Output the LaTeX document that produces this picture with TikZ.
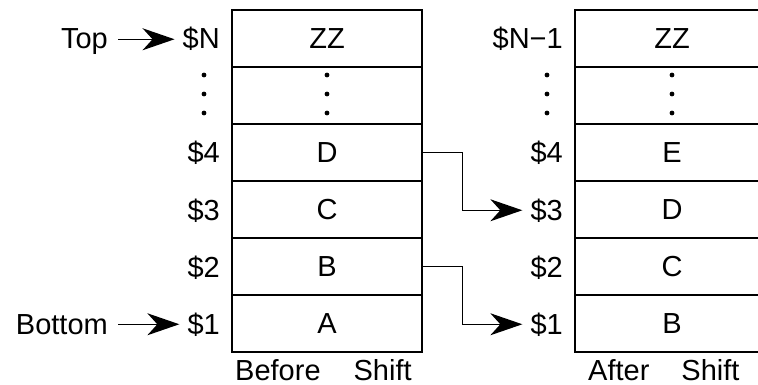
\documentclass[tikz,border=0pt]{standalone}
\usepackage{fontspec}
\setmainfont{Liberation Sans}
\usetikzlibrary{arrows.meta}
\begin{document}
\begin{tikzpicture}[x=1pt,y=-1pt,
  every node/.style={font=\fontsize{29}{34}\selectfont, inner sep=0pt},
  cellL/.style={minimum width=190pt, minimum height=57pt},
  cellR/.style={minimum width=150pt, minimum height=57pt},
  lbl/.style={anchor=base east},
  outer/.style={line width=2.2pt},
  inner/.style={line width=1.3pt},
  conn/.style={line width=1.3pt, -{Stealth[length=32pt,width=22pt,inset=10pt]}, shorten >=8pt},
  dotc/.style={fill=black}
]
\useasboundingbox (0,0) rectangle (758,385);
% left box
\draw[inner] (232,67) -- (422,67) (232,124) -- (422,124) (232,181) -- (422,181)
  (232,238) -- (422,238) (232,295) -- (422,295);
\draw[outer] (232,10) rectangle (422,352);
% right box
\draw[inner] (575,67) -- (758,67) (575,124) -- (758,124) (575,181) -- (758,181)
  (575,238) -- (758,238) (575,295) -- (758,295);
\draw[outer] (758,10) -- (575,10) -- (575,352) -- (758,352);
% left cells
\node[cellL] (cZ) at (327,38.5) {ZZ};
\node[cellL] (cD) at (327,152.5) {D};
\node[cellL] (cC) at (327,209.5) {C};
\node[cellL] (cB) at (327,266.5) {B};
\node[cellL] (cA) at (327,323.5) {A};
% right cells
\node[cellR] (rZ) at (672,38.5) {ZZ};
\node[cellR] (rE) at (672,152.5) {E};
\node[cellR] (rD) at (672,209.5) {D};
\node[cellR] (rC) at (672,266.5) {C};
\node[cellR] (rB) at (672,323.5) {B};
% left labels
\node[lbl] (lN) at (220,49) {\$N};
\node[lbl] (l4) at (220,163) {\$4};
\node[lbl] (l3) at (220,220) {\$3};
\node[lbl] (l2) at (220,277) {\$2};
\node[lbl] (l1) at (220,334) {\$1};
% right labels
\node[lbl] (mN) at (563,49) {\$N−1};
\node[lbl] (m4) at (563,163) {\$4};
\node[lbl] (m3) at (563,220) {\$3};
\node[lbl] (m2) at (563,277) {\$2};
\node[lbl] (m1) at (563,334) {\$1};
% dots
\foreach \x in {204,327,547,672}{
  \foreach \y in {75,94,113}{
    \fill[dotc] (\x,\y) circle (2.4pt);
  }
}
% side labels
\node[anchor=base east] (top) at (108,49) {Top};
\node[anchor=base east] (bot) at (108,334) {Bottom};
\draw[conn, shorten <=10pt] (top.east |- lN.west) -- (lN.west);
\draw[conn, shorten <=10pt] (bot.east |- l1.west) -- (l1.west);
% connectors
\draw[conn] (cD.east) -- ++(40,0) |- (m3.west);
\draw[conn] (cB.east) -- ++(40,0) |- (m1.west);
% captions
\node[anchor=base west] (capL) at (235,380) {Before\hspace{33pt}Shift};
\node[anchor=base west] (capR) at (588,380) {After\hspace{32pt}Shift};
\end{tikzpicture}
\end{document}
